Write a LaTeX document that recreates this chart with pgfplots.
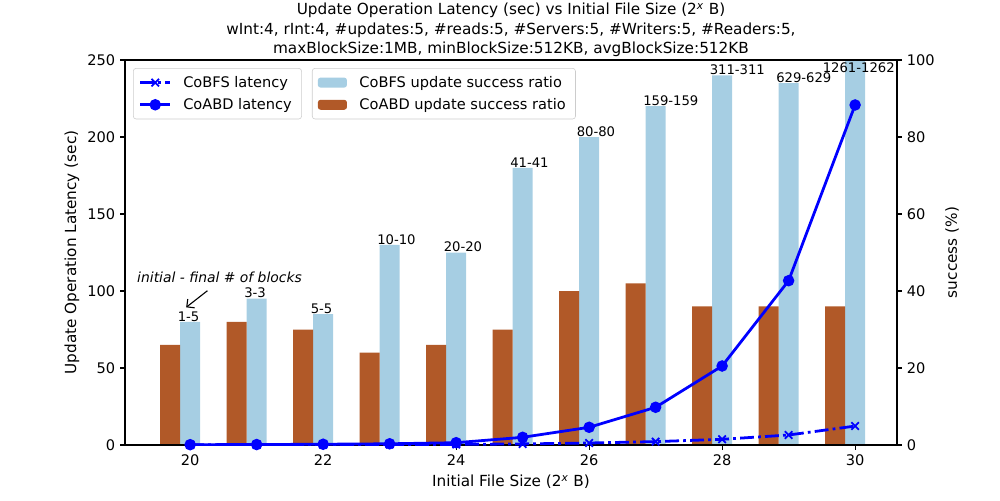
\documentclass[border=0pt]{standalone}
\usepackage{pgfplots}
\pgfplotsset{compat=1.18}
\usepackage{fontspec}
\setmainfont{DejaVu Sans}
\usetikzlibrary{arrows.meta}
\definecolor{cbfs}{HTML}{A6CEE3}
\definecolor{cabd}{HTML}{B15928}
\pgfplotsset{
  common/.style={
    at={(0,0)}, anchor=south west,
    scale only axis, width=555.84pt, height=277.2pt,
    xmin=19.02, xmax=30.63,
    /pgf/number format/assume math mode=true,
    tick align=outside, major tick length=3.5pt,
    tick style={black, line width=0.8pt},
    axis line style={line width=0.8pt},
    tick label style={font=\fontsize{10.5}{12.5}\selectfont},
    label style={font=\fontsize{11}{13}\selectfont},
    legend cell align=left,
    legend style={draw=black!20, rounded corners=2pt, fill=white,
      inner xsep=4pt, inner ysep=3.5pt, row sep=2.5pt, font=\fontsize{10.5}{12.5}\selectfont,
      nodes={inner xsep=3pt}},
  }
}
\begin{document}
\begin{tikzpicture}[x=1pt,y=1pt]
\useasboundingbox (-90,-39.6) rectangle (630,320.4);
\begin{axis}[common,
  ymin=0, ymax=100, clip=false,
  ytick={0,20,40,60,80,100},
  ytick pos=right, yticklabel pos=right,
  xtick=\empty,
  ylabel={success (\%)},
  ylabel style={at={(rel axis cs:1,0.5)}, anchor=center, yshift=-39.6pt},
  bar width=0.3,
  legend style={at={(rel axis cs:0.2422,0.979)}, anchor=north west},
  legend image code/.code={\fill[#1] (0pt,-3.6pt) rectangle (21pt,3.6pt); \path (27pt,0pt);},
]
\addplot[ybar, fill=cbfs, draw=none, bar shift=0] coordinates {
(20,32)(21,38)(22,34)(23,52)(24,50)(25,72)(26,80)(27,88)(28,96)(29,94)(30,100)};
\addlegendentry{CoBFS update success ratio}
\addplot[ybar, fill=cabd, draw=none, bar shift=-0.3] coordinates {
(20,26)(21,32)(22,30)(23,24)(24,26)(25,30)(26,40)(27,42)(28,36)(29,36)(30,36)};
\addlegendentry{CoABD update success ratio}
\begin{scope}[every node/.style={anchor=base west, inner sep=0pt, font=\fontsize{9.5}{11}\selectfont}]
\node at (axis cs:19.81,32.2) {1-5};
\node at (axis cs:20.81,38.2) {3-3};
\node at (axis cs:21.81,34.2) {5-5};
\node at (axis cs:22.81,52.2) {10-10};
\node at (axis cs:23.81,50.2) {20-20};
\node at (axis cs:24.81,72.2) {41-41};
\node at (axis cs:25.81,80.2) {80-80};
\node at (axis cs:26.81,88.2) {159-159};
\node at (axis cs:27.81,96.2) {311-311};
\node at (axis cs:28.81,94.2) {629-629};
\node at (axis cs:29.51,96.8) {1261-1262};
\end{scope}
\end{axis}
\begin{axis}[common,
  ymin=0, ymax=250,
  ytick={0,50,100,150,200,250},
  xtick={20,22,24,26,28,30},
  ytick pos=left, xtick pos=bottom,
  ylabel={Update Operation Latency (sec)},
  ylabel style={at={(rel axis cs:0,0.5)}, anchor=center, yshift=38.2pt},
  xlabel={Initial File Size (2\textsuperscript{\itshape x} B)},
  title={Update Operation Latency (sec) vs Initial File Size (2\textsuperscript{\itshape x} B)\\wInt:4, rInt:4, \#updates:5, \#reads:5, \#Servers:5, \#Writers:5, \#Readers:5,\\maxBlockSize:1MB, minBlockSize:512KB, avgBlockSize:512KB},
  title style={align=center, font=\fontsize{11}{13.8}\selectfont, yshift=-7pt},
  legend style={at={(rel axis cs:0.0104,0.979)}, anchor=north west},
  legend image code/.code={\draw[#1, mark repeat=2, mark phase=2] plot coordinates {(0pt,0pt) (10.8pt,0pt) (21.6pt,0pt)}; \path (27pt,0pt);},
]
\addplot[blue, line width=2pt, mark=x, mark size=3.8pt, mark options={solid, line width=1.3pt},
  dash pattern=on 10pt off 3pt on 2pt off 3pt] coordinates {
(20,0.1)(21,0.15)(22,0.2)(23,0.3)(24,0.4)(25,0.7)(26,1.3)(27,2.2)(28,3.7)(29,6.5)(30,12.3)};
\addlegendentry{CoBFS latency}
\addplot[blue, line width=2pt, mark=*, mark size=3.1pt] coordinates {
(20,0.2)(21,0.3)(22,0.5)(23,0.8)(24,1.5)(25,5.0)(26,11.5)(27,24.5)(28,51.3)(29,106.7)(30,220.8)};
\addlegendentry{CoABD latency}
\node[anchor=base west, inner sep=0pt, font=\fontsize{10}{12}\selectfont\itshape] at (axis cs:19.2,105.2) {initial - final \# of blocks};
\draw[-{Straight Barb[length=4pt]}, line width=0.8pt] (axis cs:20.26,100.2) -- (axis cs:19.94,89.4);
\end{axis}
\end{tikzpicture}
\end{document}
